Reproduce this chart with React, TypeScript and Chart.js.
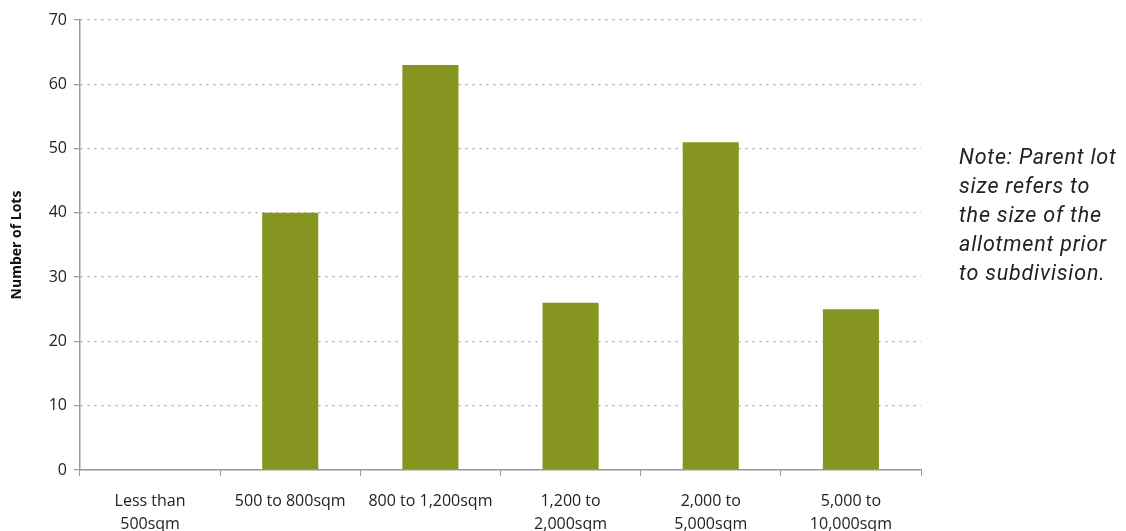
import React, { useEffect, useRef } from "react";
import { Chart, registerables } from "chart.js";

Chart.register(...registerables);

const categories: (string | string[])[] = [
  ["Less than", "500sqm"],
  "500 to 800sqm",
  "800 to 1,200sqm",
  ["1,200 to", "2,000sqm"],
  ["2,000 to", "5,000sqm"],
  ["5,000 to", "10,000sqm"],
];
const lotCounts: number[] = [0, 40, 63, 26, 51, 25];
const yTitle = "Number of Lots";
const noteLines: string[] = [
  "Note: Parent lot",
  "size refers to",
  "the size of the",
  "allotment prior",
  "to subdivision.",
];

const FONT = "'Open Sans', sans-serif";

export default function App() {
  const canvasRef = useRef<HTMLCanvasElement | null>(null);

  useEffect(() => {
    if (!canvasRef.current) return;
    const chart = new Chart(canvasRef.current, {
      type: "bar",
      data: {
        labels: categories,
        datasets: [
          {
            data: lotCounts,
            backgroundColor: "#86951f",
            borderWidth: 0,
            barPercentage: 0.4,
            categoryPercentage: 1,
          },
        ],
      },
      options: {
        animation: false,
        responsive: false,
        maintainAspectRatio: false,
        layout: { padding: { top: 12, right: 197, left: 0, bottom: 0 } },
        plugins: {
          legend: { display: false },
          tooltip: { enabled: false },
        },
        scales: {
          x: {
            grid: {
              display: true,
              drawOnChartArea: false,
              drawTicks: true,
              tickLength: 6,
              offset: true,
              color: "#9a9a9a",
            },
            border: { display: true, color: "#9a9a9a", width: 1.5 },
            ticks: {
              color: "#222",
              font: { family: FONT, size: 16, lineHeight: 1.45 },
              padding: 14,
              maxRotation: 0,
              autoSkip: false,
            },
            afterFit: (scale: any) => {
              scale.height = 64;
              scale.paddingLeft = 0;
              scale.paddingRight = 0;
            },
          },
          y: {
            min: 0,
            max: 70,
            ticks: {
              stepSize: 10,
              color: "#222",
              font: { family: FONT, size: 16 },
              padding: 7,
            },
            grid: {
              color: "#a6a6a6",
              lineWidth: 1.3,
              tickLength: 6,
              tickColor: "#9a9a9a",
              tickWidth: 1.2,
            },
            border: { display: true, color: "#9a9a9a", width: 1.5, dash: [2, 5] },
            title: {
              display: true,
              text: yTitle,
              color: "#111",
              font: { family: FONT, size: 14, weight: "bold" },
              padding: { top: 1, bottom: 0 },
            },
            afterFit: (scale: any) => {
              scale.width = 72;
              scale.paddingTop = 0;
              scale.paddingBottom = 0;
            },
          },
        },
      },
    });
    return () => chart.destroy();
  }, []);

  return (
    <div style={{ position: "relative", width: 1110, height: 526 }}>
      <canvas
        ref={canvasRef}
        width={1110}
        height={526}
        style={{ position: "absolute", left: 0, top: 0 }}
      />
      <div
        style={{
          position: "absolute",
          left: 951,
          top: 134,
          fontFamily: "Roboto, sans-serif",
          fontStyle: "italic",
          fontSize: 21.5,
          letterSpacing: "0.8px",
          lineHeight: "29px",
          color: "#222",
          whiteSpace: "nowrap",
        }}
      >
        {noteLines.map((l, i) => (
          <div key={i}>{l}</div>
        ))}
      </div>
    </div>
  );
}
